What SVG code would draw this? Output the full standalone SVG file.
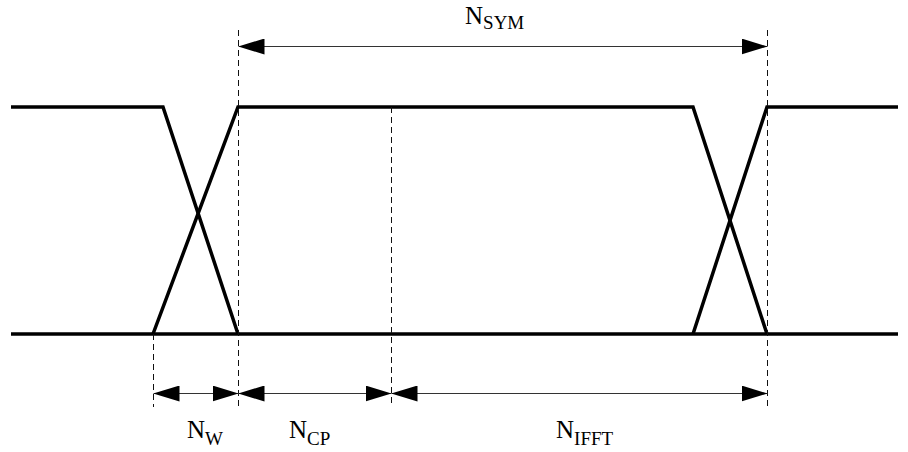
<svg xmlns="http://www.w3.org/2000/svg" width="908" height="452" viewBox="0 0 908 452">
<style>
.sig{fill:none;stroke:#000;stroke-width:3.5;stroke-linejoin:miter}
.dash{fill:none;stroke:#111;stroke-width:1;stroke-dasharray:6,4}
.dim{fill:none;stroke:#333;stroke-width:1}
.lbl{font-family:"Liberation Serif","Times New Roman",serif;fill:#000}
.n{font-size:25px}
.s{font-size:19px}
</style>
<defs>
<marker id="ah" markerWidth="26" markerHeight="16" refX="26" refY="8" orient="auto-start-reverse" markerUnits="userSpaceOnUse">
<path d="M0,0 L26,8 L0,16 Z" fill="#000"/>
</marker>
</defs>
<rect width="908" height="452" fill="#fff"/>
<g id="signals">
<polyline class="sig" points="11,107 163,107 238,334"/>
<polyline class="sig" points="153,334 238,107 693,107 767,334"/>
<polyline class="sig" points="693,334 767,107 898,107"/>
<line class="sig" x1="11" y1="334" x2="898" y2="334"/>
</g>
<g id="guides">
<line class="dash" x1="238.5" y1="30" x2="238.5" y2="407"/>
<line class="dash" x1="767.5" y1="30" x2="767.5" y2="407"/>
<line class="dash" x1="153.5" y1="334" x2="153.5" y2="407"/>
<line class="dash" x1="391.5" y1="107" x2="391.5" y2="407"/>
</g>
<g id="connectors">
<line class="dim" x1="238.5" y1="46.5" x2="767.5" y2="46.5" marker-start="url(#ah)" marker-end="url(#ah)"/>
<line class="dim" x1="153.5" y1="393.5" x2="238.5" y2="393.5" marker-start="url(#ah)" marker-end="url(#ah)"/>
<line class="dim" x1="238.5" y1="393.5" x2="391.5" y2="393.5" marker-start="url(#ah)" marker-end="url(#ah)"/>
<line class="dim" x1="391.5" y1="393.5" x2="767.5" y2="393.5" marker-start="url(#ah)" marker-end="url(#ah)"/>
</g>
<g id="label-nsym"><text class="lbl" x="465" y="24"><tspan class="n">N</tspan><tspan class="s" dy="5">SYM</tspan></text></g>
<g id="label-nw"><text class="lbl" x="187" y="438"><tspan class="n">N</tspan><tspan class="s" dy="7">W</tspan></text></g>
<g id="label-ncp"><text class="lbl" x="289" y="438"><tspan class="n">N</tspan><tspan class="s" dy="7">CP</tspan></text></g>
<g id="label-nifft"><text class="lbl" x="556" y="438"><tspan class="n">N</tspan><tspan class="s" dy="7">IFFT</tspan></text></g>
</svg>
